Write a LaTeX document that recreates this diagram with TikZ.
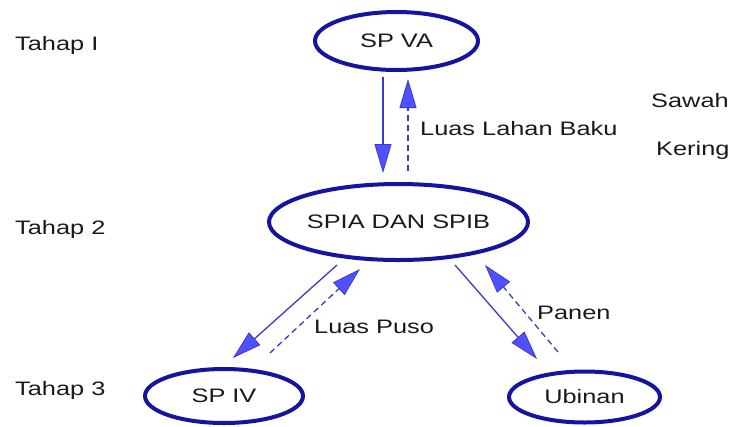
\documentclass[tikz,border=0pt]{standalone}
\usepackage{fontspec}
\setmainfont{Liberation Sans}[FakeStretch=1.3]
\usetikzlibrary{shapes.geometric,arrows.meta,calc}
\definecolor{ellblue}{HTML}{1414A0}
\definecolor{lineblue}{HTML}{3A3AD0}
\definecolor{tipfill}{HTML}{5050FF}
\definecolor{txt}{HTML}{1A1A1A}
\begin{document}
\begin{tikzpicture}[x=1pt,y=-1pt,
  ell/.style={ellipse,draw=ellblue,line width=4pt,inner sep=0pt,text=txt,
    font=\fontsize{19.5}{22}\selectfont},
  lbl/.style={anchor=base west,inner sep=0pt,text=txt,font=\fontsize{19.5}{22}\selectfont},
  conn/.style={draw=lineblue,line width=1.3pt,
    -{Triangle[length=29pt,width=17pt,fill=tipfill,line width=0.8pt]}},
  dconn/.style={conn,dash pattern=on 6pt off 4pt}]
\useasboundingbox[fill=white] (0,0) rectangle (733,426);
\node[ell,minimum width=163pt,minimum height=58pt] (va) at (396.5,41) {SP VA};
\node[ell,minimum width=239pt,minimum height=76pt] (spia) at (398.5,222) {SPIA DAN SPIB};
\node[ell,minimum width=158pt,minimum height=54pt] (spiv) at (224,396) {SP IV};
\node[ell,minimum width=151pt,minimum height=51pt] (ubinan) at (584.5,397) {Ubinan};
% labels
\node[lbl] (t1) at (15,50) {Tahap I};
\node[lbl] (t2) at (15,234) {Tahap 2};
\node[lbl] (t3) at (15,395) {Tahap 3};
\node[lbl] (sawah) at (651,107) {Sawah};
\node[lbl] (kering) at (656,155) {Kering};
\node[lbl] (llb) at (420,135) {Luas Lahan Baku};
\node[lbl] (lp) at (314,333) {Luas Puso};
\node[lbl] (panen) at (537,319) {Panen};
% connectors
\draw[conn,line width=1.6pt] ($(va)+(-13.5,36)$) -- ($(spia)+(-15.5,-49)$);
\draw[dconn] ($(spia)+(9.5,-51)$) -- ($(va)+(11.5,38)$);
\draw[conn] ($(spia)+(-61.5,43)$) -- ($(spiv)+(9,-38)$);
\draw[dconn] ($(spiv)+(46,-43)$) -- ($(spia)+(-38.5,47)$);
\draw[conn] ($(spia)+(56.5,43)$) -- ($(ubinan)+(-47.5,-38)$);
\draw[dconn] ($(ubinan)+(-26.5,-45)$) -- ($(spia)+(86.5,43)$);
\end{tikzpicture}
\end{document}
